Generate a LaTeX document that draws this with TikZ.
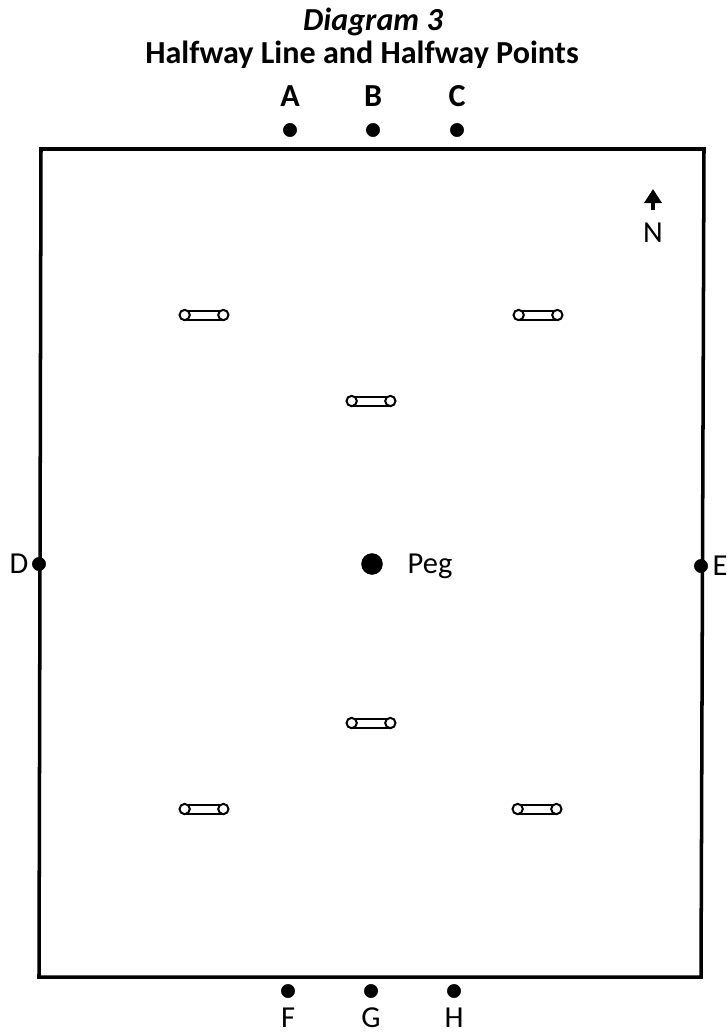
\documentclass[tikz,border=0pt]{standalone}
\usepackage{fontspec}
\setmainfont{Carlito}
\usetikzlibrary{arrows.meta}
\tikzset{
  hwdot/.style={circle, fill=black, draw=black, inner sep=0pt, minimum size=4mm},
  hwpeg/.style={circle, fill=black, draw=black, inner sep=0pt, minimum size=6.3mm},
  hwlab/.style={font=\fontsize{26}{30}\selectfont, inner sep=0pt},
  hwhead/.style={font=\fontsize{27.4}{32}\selectfont\bfseries, inner sep=0pt},
  hwrod/.style={draw=black, line width=1.7pt, fill=white, minimum width=12mm, minimum height=2.7mm, inner sep=0pt},
  hwend/.style={circle, draw=black, line width=1.7pt, fill=white, inner sep=0pt, minimum size=3.1mm},
  hwarr/.style={-{Triangle[length=4.2mm, width=5.1mm]}, line width=3.8pt}
}

\begin{document}
\begin{tikzpicture}[x=0.03cm,y=-0.03cm]
        \useasboundingbox (0,0) rectangle (726,1034);

        % title
        \node[hwhead, font=\fontsize{27.4}{32}\selectfont\bfseries\itshape] (title) at (373,22) {Diagram 3};
        \node[hwhead] (subtitle) at (362,55) {Halfway Line and Halfway Points};

        % boundary
        \draw[line width=3pt] (41,149) -- (704,149) -- (701,977) -- (39,977) -- cycle;

        % halfway points
        \foreach \name/\px/\py in {A/290/130, B/373/130, C/457/130, F/288/991, G/371/991, H/454/991, D/39/564, E/701/566}
          \node[hwdot] (\name) at (\px,\py) {};

        \node[hwhead] at (290,96) {A};
        \node[hwhead] at (373,96) {B};
        \node[hwhead] at (457,96) {C};
        \node[hwlab] at (288,1018) {F};
        \node[hwlab] at (371,1018) {G};
        \node[hwlab] at (454,1018) {H};
        \node[hwlab] at (19,564) {D};
        \node[hwlab] at (720,566) {E};

        % peg
        \node[hwpeg] (peg) at (372,564) {};
        \node[hwlab] at (430,566) {Peg};

        % north
        \node[hwlab] (north) at (653,233) {N};
        \coordinate (northtip) at (653,189);
        \draw[hwarr] (653,210) -- (northtip);

        % halfway line markers
        \foreach \name/\px/\py in {nw/204/315, ne/538/315, un/371/401, us/371/723, sw/204/809, se/537/809} {
          \node[hwrod] (\name) at (\px,\py) {};
          \node[hwend] (\name l) at ([xshift=-5.8mm]\name.center) {};
          \node[hwend] (\name r) at ([xshift=5.8mm]\name.center) {};
        }
\end{tikzpicture}
\end{document}
